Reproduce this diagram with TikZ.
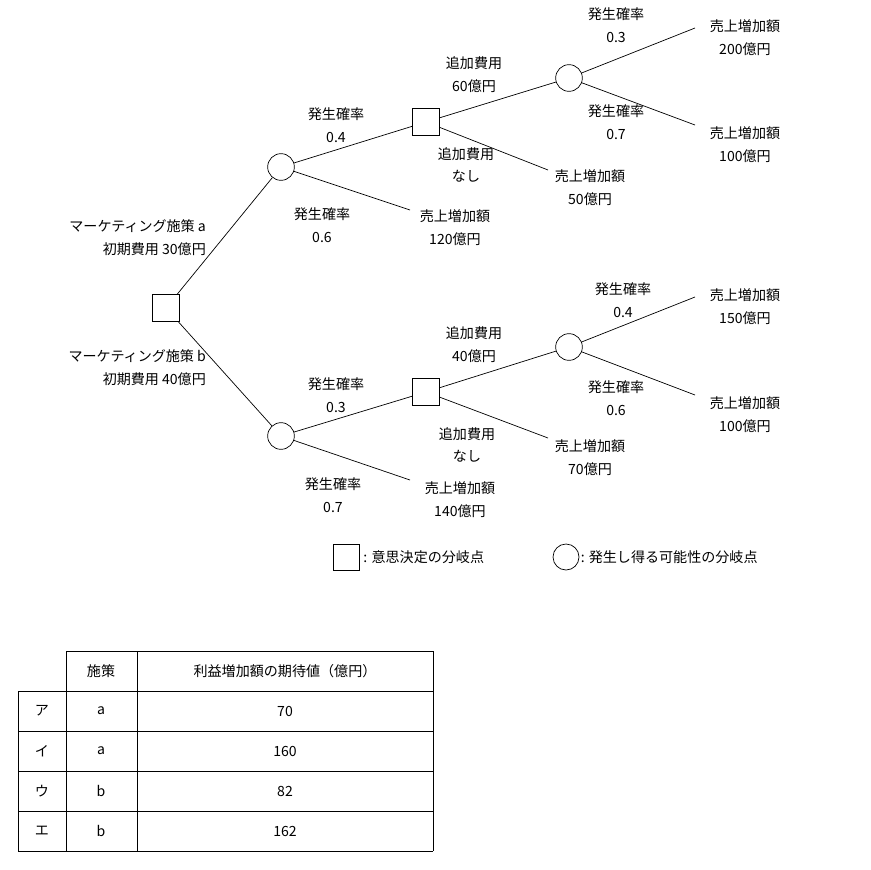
\documentclass[tikz,border=0pt]{standalone}
\usepackage{fontspec}
\setmainfont{Noto Sans CJK JP}
\usetikzlibrary{positioning}
\tikzset{
  dec/.style={draw, rectangle, line width=0.6pt, minimum size=0.8cm, inner sep=0pt},
  chance/.style={draw, circle, line width=0.6pt, minimum size=0.8cm, inner sep=0pt},
  edge/.style={line width=0.6pt},
  lbl/.style={align=center, font=\fontsize{12}{19.5}\selectfont},
  grid/.style={line width=0.7pt}
}
\begin{document}
\begin{tikzpicture}[x=0.03cm, y=-0.03cm]
  \useasboundingbox (0,0) rectangle (871,869);
  % --- decision and chance nodes ---
  \node[dec] (root) at (166,308) {};
  \node[chance] (ua) at (281,167) {};
  \node[chance] (lb) at (281,436) {};
  \node[dec] (ud) at (426,122) {};
  \node[dec] (ld) at (426,392) {};
  \node[chance] (uc) at (569,78) {};
  \node[chance] (lc) at (569,347) {};
  % --- leaf ends ---
  \coordinate (u1) at (695,28);
  \coordinate (u2) at (695,125);
  \coordinate (u3) at (548,170);
  \coordinate (u4) at (410,210);
  \coordinate (l1) at (695,297);
  \coordinate (l2) at (695,395);
  \coordinate (l3) at (548,438);
  \coordinate (l4) at (410,480);
  % --- branches ---
  \draw[edge] (root) -- (ua);
  \draw[edge] (root) -- (lb);
  \draw[edge] (ua) -- (ud);
  \draw[edge] (ua) -- (u4);
  \draw[edge] (ud) -- (uc);
  \draw[edge] (ud) -- (u3);
  \draw[edge] (uc) -- (u1);
  \draw[edge] (uc) -- (u2);
  \draw[edge] (lb) -- (ld);
  \draw[edge] (lb) -- (l4);
  \draw[edge] (ld) -- (lc);
  \draw[edge] (ld) -- (l3);
  \draw[edge] (lc) -- (l1);
  \draw[edge] (lc) -- (l2);
  % --- labels ---
  \node[lbl, align=right, anchor=east] (ta) at (210,238) {マーケティング施策 a\\初期費用 30億円};
  \node[lbl, align=right, anchor=east] (tb) at (210,368) {マーケティング施策 b\\初期費用 40億円};
  \node[lbl] (p1) at (336,125) {発生確率\\0.4};
  \node[lbl] (p2) at (322,225) {発生確率\\0.6};
  \node[lbl] (s1) at (455,228) {売上増加額\\120億円};
  \node[lbl] (c1) at (474,75) {追加費用\\60億円};
  \node[lbl] (c2) at (466,165) {追加費用\\なし};
  \node[lbl] (s2) at (590,188) {売上増加額\\50億円};
  \node[lbl] (p3) at (616,25) {発生確率\\0.3};
  \node[lbl] (p4) at (616,122) {発生確率\\0.7};
  \node[lbl] (s3) at (745,38) {売上増加額\\200億円};
  \node[lbl] (s4) at (745,145) {売上増加額\\100億円};
  \node[lbl] (p5) at (336,395) {発生確率\\0.3};
  \node[lbl] (p6) at (333,495) {発生確率\\0.7};
  \node[lbl] (s5) at (460,500) {売上増加額\\140億円};
  \node[lbl] (c3) at (474,345) {追加費用\\40億円};
  \node[lbl] (c4) at (467,445) {追加費用\\なし};
  \node[lbl] (s6) at (590,458) {売上増加額\\70億円};
  \node[lbl] (p7) at (623,300) {発生確率\\0.4};
  \node[lbl] (p8) at (616,398) {発生確率\\0.6};
  \node[lbl] (s7) at (745,307) {売上増加額\\150億円};
  \node[lbl] (s8) at (745,415) {売上増加額\\100億円};
  % --- legend ---
  \node[dec, minimum size=0.78cm] (kd) at (346,557) {};
  \node[lbl, anchor=west] (kdt) at (kd.east) {: 意思決定の分岐点};
  \node[chance, minimum size=0.78cm] (kc) at (566,557) {};
  \node[lbl, anchor=west, inner sep=1pt] (kct) at (kc.east) {: 発生し得る可能性の分岐点};
  % --- table ---
  \draw[grid] (66,651) -- (433,651);
  \foreach \y in {691,731,771,811,851} \draw[grid] (18,\y) -- (433,\y);
  \draw[grid] (18,691) -- (18,851);
  \foreach \x in {66,137,433} \draw[grid] (\x,651) -- (\x,851);
  \node[lbl] (h1) at (101,671) {施策};
  \node[lbl] (h2) at (285,671) {利益増加額の期待値（億円）};
  \foreach \k/\p/\v [count=\i] in {ア/a/70,イ/a/160,ウ/b/82,エ/b/162} {
    \node[lbl] (r\i k) at (42,671+40*\i) {\k};
    \node[lbl] (r\i p) at (101,671+40*\i) {\p};
    \node[lbl] (r\i v) at (285,671+40*\i) {\v};
  }
\end{tikzpicture}
\end{document}
